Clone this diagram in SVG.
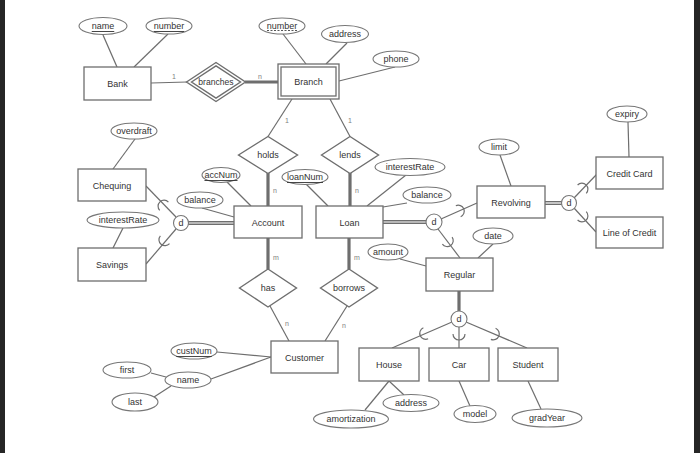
<svg xmlns="http://www.w3.org/2000/svg" xmlns:xlink="http://www.w3.org/1999/xlink" width="700" height="453" viewBox="0 0 700 453">
<style>
text{font-family:"Liberation Sans",Arial,sans-serif;font-size:9px;fill:#333;text-anchor:middle;dominant-baseline:central}
.ent{fill:#fff;stroke:#6e6e6e;stroke-width:1.3}
.rel{fill:#fff;stroke:#6e6e6e;stroke-width:1.4}
.att{fill:#fff;stroke:#777;stroke-width:1.1}
.ln{stroke:#6e6e6e;stroke-width:1.2;fill:none}
.thick{stroke:#6e6e6e;stroke-width:3.2;fill:none}
.dbl{stroke:#6e6e6e;stroke-width:4;fill:none}
.dblin{stroke:#fff;stroke-width:1.2;fill:none}
.card{font-size:7px;fill:#808080}
.sub{stroke:#6e6e6e;stroke-width:1.2;fill:none}
.u{text-decoration:underline}
</style>
<defs>
<path id="sub" d="M -3,-6 A 6,6 0 0 1 -3,6"/>
</defs>
<rect x="0" y="0" width="700" height="453" fill="#fff"/>
<rect x="0" y="0" width="5" height="453" fill="#262626"/>
<rect x="694" y="0" width="6" height="453" fill="#262626"/>

<g id="connectors">
<line class="ln" x1="103" y1="35" x2="117" y2="67"/>
<line class="ln" x1="168" y1="34" x2="134" y2="67"/>
<line class="ln" x1="151" y1="83" x2="187" y2="82"/>
<line class="ln" x1="283" y1="34" x2="306" y2="64"/>
<line class="ln" x1="347" y1="43" x2="326" y2="64"/>
<line class="ln" x1="395" y1="67" x2="339" y2="81"/>
<line class="ln" x1="292" y1="99" x2="268" y2="136.5"/>
<line class="ln" x1="330" y1="99" x2="350" y2="136.5"/>
<line class="ln" x1="135" y1="139" x2="113" y2="169"/>
<line class="ln" x1="123" y1="228" x2="113" y2="248"/>
<line class="ln" x1="176" y1="217" x2="146" y2="186"/>
<line class="ln" x1="176" y1="229" x2="146" y2="264"/>
<line class="ln" x1="227" y1="182" x2="251" y2="206"/>
<line class="ln" x1="202" y1="208" x2="234" y2="217"/>
<line class="ln" x1="306" y1="184" x2="328" y2="206"/>
<line class="ln" x1="406" y1="175" x2="367" y2="206"/>
<line class="ln" x1="407" y1="203" x2="383" y2="207"/>
<line class="ln" x1="441" y1="219" x2="477" y2="203"/>
<line class="ln" x1="438" y1="229" x2="460" y2="258"/>
<line class="ln" x1="500" y1="155" x2="511" y2="186"/>
<line class="ln" x1="574" y1="198" x2="597" y2="174"/>
<line class="ln" x1="574" y1="208" x2="596" y2="232"/>
<line class="ln" x1="628" y1="122" x2="629" y2="157"/>
<line class="ln" x1="493" y1="244" x2="478" y2="258"/>
<line class="ln" x1="400" y1="259" x2="426" y2="266"/>
<line class="ln" x1="452" y1="322" x2="392" y2="348"/>
<line class="ln" x1="459" y1="327" x2="459" y2="348"/>
<line class="ln" x1="466" y1="322" x2="527" y2="348"/>
<line class="ln" x1="389" y1="381" x2="365" y2="410"/>
<line class="ln" x1="389" y1="381" x2="404" y2="395"/>
<line class="ln" x1="459" y1="381" x2="470" y2="406"/>
<line class="ln" x1="528" y1="381" x2="541" y2="409"/>
<line class="ln" x1="270" y1="306" x2="289" y2="341"/>
<line class="ln" x1="347" y1="306" x2="325" y2="341"/>
<line class="ln" x1="217" y1="352" x2="271" y2="357"/>
<line class="ln" x1="211" y1="379" x2="271" y2="357"/>
<line class="ln" x1="151" y1="373" x2="166" y2="377"/>
<line class="ln" x1="154" y1="397" x2="171" y2="386"/>

<line class="thick" x1="245" y1="82" x2="278" y2="82"/>
<line class="thick" x1="268" y1="173" x2="268" y2="206"/>
<line class="thick" x1="350" y1="173" x2="350" y2="206"/>
<line class="thick" x1="268" y1="238" x2="268" y2="269"/>
<line class="thick" x1="349" y1="238" x2="349" y2="269"/>
<line class="thick" x1="459" y1="291" x2="459" y2="311"/>

<line class="dbl" x1="188" y1="223" x2="234" y2="223"/>
<line class="dblin" x1="188" y1="223" x2="234" y2="223"/>
<line class="dbl" x1="383" y1="222" x2="426" y2="222"/>
<line class="dblin" x1="383" y1="222" x2="426" y2="222"/>
<line class="dbl" x1="545" y1="203" x2="562" y2="203"/>
<line class="dblin" x1="545" y1="203" x2="562" y2="203"/>

<use xlink:href="#sub" href="#sub" class="sub" transform="translate(162,204) rotate(-133.4)"/>
<use xlink:href="#sub" href="#sub" class="sub" transform="translate(163,242) rotate(130.5)"/>
<use xlink:href="#sub" href="#sub" class="sub" transform="translate(461,210) rotate(-23.8)"/>
<use xlink:href="#sub" href="#sub" class="sub" transform="translate(449,243) rotate(54.2)"/>
<use xlink:href="#sub" href="#sub" class="sub" transform="translate(584,187) rotate(-46)"/>
<use xlink:href="#sub" href="#sub" class="sub" transform="translate(584,218) rotate(46)"/>
<use xlink:href="#sub" href="#sub" class="sub" transform="translate(423,334.5) rotate(156.6)"/>
<use xlink:href="#sub" href="#sub" class="sub" transform="translate(459,337) rotate(90)"/>
<use xlink:href="#sub" href="#sub" class="sub" transform="translate(496,335) rotate(23.1)"/>

<text class="card" x="174" y="76">1</text>
<text class="card" x="260" y="76">n</text>
<text class="card" x="287" y="120">1</text>
<text class="card" x="350" y="120">1</text>
<text class="card" x="275" y="190">n</text>
<text class="card" x="357" y="190">n</text>
<text class="card" x="276" y="257">m</text>
<text class="card" x="357" y="257">m</text>
<text class="card" x="287" y="323">n</text>
<text class="card" x="344" y="325">n</text>
</g>

<g id="d-account"><circle class="att" cx="181" cy="223" r="7.5"/><text x="181" y="223">d</text></g>
<g id="d-loan"><circle class="att" cx="434" cy="222" r="8"/><text x="434" y="222">d</text></g>
<g id="d-revolving"><circle class="att" cx="569" cy="203" r="7.5"/><text x="569" y="203">d</text></g>
<g id="d-regular"><circle class="att" cx="459" cy="319" r="8"/><text x="459" y="319">d</text></g>

<g id="bank"><rect class="ent" x="84" y="67" width="67" height="33"/><text x="117.5" y="84">Bank</text></g>
<g id="branch"><rect class="ent" x="278" y="64" width="61" height="35"/><rect class="ent" x="281" y="67" width="55" height="29"/><text x="308.5" y="82">Branch</text></g>
<g id="chequing"><rect class="ent" x="78" y="169" width="68" height="32"/><text x="112" y="185.5">Chequing</text></g>
<g id="savings"><rect class="ent" x="78" y="248" width="68" height="33"/><text x="112" y="265">Savings</text></g>
<g id="account"><rect class="ent" x="234" y="206" width="68" height="32"/><text x="268" y="223">Account</text></g>
<g id="loan"><rect class="ent" x="316" y="206" width="67" height="32"/><text x="349.5" y="223">Loan</text></g>
<g id="revolving"><rect class="ent" x="477" y="186" width="68" height="32"/><text x="511" y="203">Revolving</text></g>
<g id="creditcard"><rect class="ent" x="596" y="157" width="67" height="32"/><text x="629.5" y="173.5">Credit Card</text></g>
<g id="lineofcredit"><rect class="ent" x="596" y="217" width="67" height="31"/><text x="629.5" y="233">Line of Credit</text></g>
<g id="regular"><rect class="ent" x="426" y="258" width="67" height="33"/><text x="459.5" y="275">Regular</text></g>
<g id="customer"><rect class="ent" x="271" y="341" width="67" height="32"/><text x="304.5" y="357.5">Customer</text></g>
<g id="house"><rect class="ent" x="359" y="348" width="60" height="33"/><text x="389" y="365">House</text></g>
<g id="car"><rect class="ent" x="429" y="348" width="60" height="33"/><text x="459" y="365">Car</text></g>
<g id="student"><rect class="ent" x="498" y="348" width="60" height="33"/><text x="528" y="365">Student</text></g>

<g id="branches"><polygon class="rel" points="186.5,82 216,62.5 245.5,82 216,101.5"/><polygon class="rel" points="191.5,82 216,65.8 240.5,82 216,98.2"/><text x="216" y="82" style="font-size:8.6px">branches</text></g>
<g id="holds"><polygon class="rel" points="238.5,155 268,136.5 297.5,155 268,173.5"/><text x="268" y="155">holds</text></g>
<g id="lends"><polygon class="rel" points="321.5,155 350,136.5 378.5,155 350,173.5"/><text x="350" y="155">lends</text></g>
<g id="has"><polygon class="rel" points="239.5,288 268,269 296.5,288 268,307"/><text x="268" y="288">has</text></g>
<g id="borrows"><polygon class="rel" points="320.5,288 349,269 377.5,288 349,307"/><text x="349" y="288">borrows</text></g>

<g id="a-bank-name"><ellipse class="att" cx="103" cy="26" rx="24" ry="8.5"/><text class="u" x="103" y="26">name</text></g>
<g id="a-bank-number"><ellipse class="att" cx="169" cy="26" rx="23" ry="8"/><text class="u" x="169" y="26">number</text></g>
<g id="a-branch-number"><ellipse class="att" cx="282" cy="26" rx="23" ry="8"/><text x="282" y="25.5">number</text><line x1="267" y1="30.5" x2="297" y2="30.5" stroke="#444" stroke-width="0.9" stroke-dasharray="2,1.5"/></g>
<g id="a-address"><ellipse class="att" cx="345" cy="34" rx="23.5" ry="8.5"/><text x="345" y="34">address</text></g>
<g id="a-phone"><ellipse class="att" cx="396" cy="59" rx="23" ry="8"/><text x="396" y="59">phone</text></g>
<g id="a-overdraft"><ellipse class="att" cx="134" cy="131" rx="23" ry="8"/><text x="134" y="131">overdraft</text></g>
<g id="a-sav-interest"><ellipse class="att" cx="123" cy="220" rx="36" ry="8"/><text x="123" y="220">interestRate</text></g>
<g id="a-accnum"><ellipse class="att" cx="221" cy="175" rx="19" ry="7.5"/><text class="u" x="221" y="175">accNum</text></g>
<g id="a-acc-balance"><ellipse class="att" cx="200" cy="200" rx="23" ry="8"/><text x="200" y="200">balance</text></g>
<g id="a-loannum"><ellipse class="att" cx="305" cy="177" rx="23" ry="7.5"/><text class="u" x="305" y="177">loanNum</text></g>
<g id="a-loan-interest"><ellipse class="att" cx="410" cy="167" rx="35" ry="8.5"/><text x="410" y="167">interestRate</text></g>
<g id="a-loan-balance"><ellipse class="att" cx="427" cy="195" rx="24" ry="8"/><text x="427" y="195">balance</text></g>
<g id="a-limit"><ellipse class="att" cx="499" cy="147" rx="20" ry="8"/><text x="499" y="147">limit</text></g>
<g id="a-expiry"><ellipse class="att" cx="627" cy="114" rx="20" ry="8"/><text x="627" y="114">expiry</text></g>
<g id="a-date"><ellipse class="att" cx="493" cy="236" rx="20" ry="8"/><text x="493" y="236">date</text></g>
<g id="a-amount"><ellipse class="att" cx="388" cy="252" rx="20" ry="8"/><text x="388" y="252">amount</text></g>
<g id="a-custnum"><ellipse class="att" cx="194" cy="351" rx="23" ry="8"/><text class="u" x="194" y="351">custNum</text></g>
<g id="a-cust-name"><ellipse class="att" cx="188" cy="380" rx="23" ry="8"/><text x="188" y="380">name</text></g>
<g id="a-first"><ellipse class="att" cx="127" cy="370" rx="24" ry="8"/><text x="127" y="370">first</text></g>
<g id="a-last"><ellipse class="att" cx="135" cy="402" rx="23" ry="9"/><text x="135" y="402">last</text></g>
<g id="a-amortization"><ellipse class="att" cx="351" cy="419" rx="37.5" ry="9"/><text x="351" y="419">amortization</text></g>
<g id="a-house-address"><ellipse class="att" cx="411" cy="403" rx="28" ry="8.5"/><text x="411" y="403">address</text></g>
<g id="a-model"><ellipse class="att" cx="475" cy="414" rx="21" ry="8.5"/><text x="475" y="414">model</text></g>
<g id="a-gradyear"><ellipse class="att" cx="547" cy="418" rx="35" ry="9"/><text x="547" y="418">gradYear</text></g>
</svg>
